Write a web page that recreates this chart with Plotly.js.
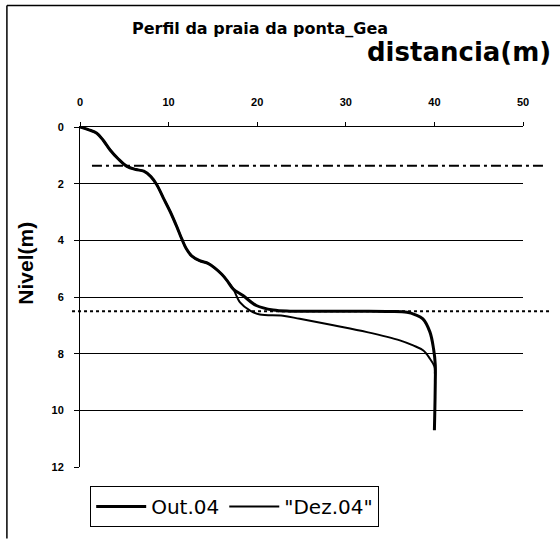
<!DOCTYPE html>
<html><head><meta charset="utf-8">
<script src="https://cdn.plot.ly/plotly-3.0.1.min.js"></script>
<style>html,body{margin:0;padding:0;background:#fff}#c{width:560px;height:539px}</style>
</head><body><div id="c"></div>
<script>
const outX = [0, 1, 1.9, 2.6, 3.4, 4.3, 5.3, 6.3, 7.2, 8.0, 8.65, 9.4, 10.2, 10.9, 11.5, 12.0, 12.6, 13.5, 14.5, 15.3, 16.0, 16.6, 17.3, 18.4, 19.9, 21.8, 23.7, 28, 32, 35, 36.9, 37.8, 38.7, 39.5, 39.9, 40.1, 40.1, 40.05, 40];
const outY = [0, 0.1, 0.22, 0.46, 0.81, 1.12, 1.39, 1.5, 1.56, 1.75, 2.03, 2.5, 3.0, 3.5, 3.96, 4.3, 4.55, 4.72, 4.82, 5.0, 5.2, 5.42, 5.72, 5.95, 6.3, 6.46, 6.5, 6.5, 6.5, 6.51, 6.54, 6.62, 6.77, 7.24, 7.82, 8.4, 9.0, 10.0, 10.7];
const dezX = [0, 1, 1.9, 2.6, 3.4, 4.3, 5.3, 6.3, 7.2, 8.0, 8.65, 9.4, 10.2, 10.9, 11.5, 12.0, 12.6, 13.5, 14.5, 15.3, 16.0, 16.6, 17.3, 18.06, 19.2, 20.3, 22.9, 24.8, 28.6, 32.4, 36.1, 37.6, 38.75, 39.5, 40, 40.05];
const dezY = [0, 0.1, 0.22, 0.46, 0.81, 1.12, 1.39, 1.5, 1.56, 1.75, 2.03, 2.5, 3.0, 3.5, 3.96, 4.3, 4.55, 4.72, 4.82, 5.0, 5.2, 5.42, 5.72, 6.19, 6.48, 6.62, 6.66, 6.77, 7.0, 7.24, 7.53, 7.71, 7.89, 8.18, 8.45, 8.7];
const seriesNames = ['Out.04', '"Dez.04"'];
const dashDotLevel = 1.37;
const dottedLevel = 6.5;
const xTicks = [0, 10, 20, 30, 40, 50];
const yTicks = [0, 2, 4, 6, 8, 10, 12];

const bold = {family: 'Liberation Sans, Arial, sans-serif', color: '#000', weight: 'bold'};
const wideBold = {family: 'DejaVu Sans, sans-serif', color: '#000', weight: 'bold'};
const traces = [
  {x: outX, y: outY, name: seriesNames[0], mode: 'lines', line: {color: '#000', width: 3, shape: 'spline', smoothing: 1}},
  {x: dezX, y: dezY, name: seriesNames[1], mode: 'lines', line: {color: '#000', width: 2, shape: 'spline', smoothing: 1}}
];
const layout = {
  width: 560, height: 539,
  margin: {l: 80, r: 37, t: 127, b: 70},
  paper_bgcolor: '#fff', plot_bgcolor: '#fff',
  showlegend: true,
  legend: {orientation: 'h', x: 0.023, y: -0.056, xanchor: 'left', yanchor: 'top',
    bordercolor: '#000', borderwidth: 1, bgcolor: '#fff', itemwidth: 50,
    font: {family: 'DejaVu Sans, sans-serif', size: 20, color: '#000'}},
  xaxis: {side: 'top', range: [0, 50], tickvals: xTicks, ticktext: xTicks.map(String),
    showgrid: false, zeroline: false, showline: true, linecolor: '#000', linewidth: 1,
    ticks: 'outside', ticklen: 4, tickcolor: '#000', ticklabelstandoff: 12,
    tickfont: Object.assign({size: 11}, bold)},
  yaxis: {range: [12, 0], tickvals: yTicks, ticktext: yTicks.map(String),
    showgrid: true, gridcolor: '#000', gridwidth: 1, zeroline: false,
    showline: true, linecolor: '#000', linewidth: 1,
    ticks: 'outside', ticklen: 5, tickcolor: '#000', ticklabelstandoff: 8,
    tickfont: Object.assign({size: 11}, bold)},
  shapes: [
    {type: 'line', xref: 'paper', yref: 'y', x0: 0.027, x1: 1.05, y0: dashDotLevel, y1: dashDotLevel,
      line: {color: '#000', width: 2, dash: '10px,4px,3px,4px'}},
    {type: 'line', xref: 'paper', yref: 'y', x0: -0.018, x1: 1.06, y0: dottedLevel, y1: dottedLevel,
      line: {color: '#000', width: 2, dash: 'dot'}},
    {type: 'line', xref: 'paper', yref: 'paper', x0: -0.165, x1: 1.09, y0: 1.357, y1: 1.357,
      line: {color: '#000', width: 1.5}},
    {type: 'line', xref: 'paper', yref: 'paper', x0: -0.165, x1: -0.165, y0: 1.357, y1: -0.21,
      line: {color: '#000', width: 1.5}}
  ],
  annotations: [
    {text: 'Perfil da praia da ponta_Gea', xref: 'paper', yref: 'paper', x: 0.407, y: 1.29,
      xanchor: 'center', yanchor: 'middle', showarrow: false, font: Object.assign({size: 16}, wideBold)},
    {text: 'distancia(m)', xref: 'paper', yref: 'paper', x: 1.068, y: 1.22,
      xanchor: 'right', yanchor: 'middle', showarrow: false, font: Object.assign({size: 26}, wideBold)},
    {text: 'Nivel(m)', xref: 'paper', yref: 'paper', x: -0.125, y: 0.6, textangle: -90,
      xanchor: 'center', yanchor: 'middle', showarrow: false, font: Object.assign({size: 21}, bold)}
  ]
};
Plotly.newPlot('c', traces, layout, {displayModeBar: false, staticPlot: true});
</script></body></html>
